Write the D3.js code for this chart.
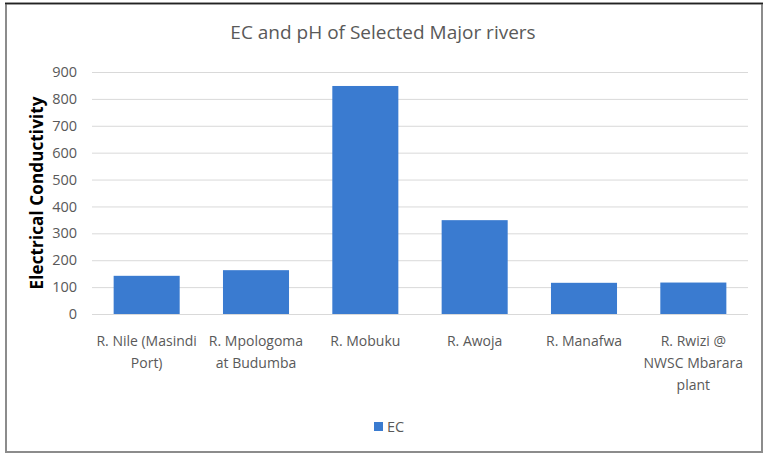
<!DOCTYPE html>
<html><head><meta charset="utf-8">
<script src="https://cdn.jsdelivr.net/npm/d3@7"></script>
<style>body{margin:0;background:#fff}svg{display:block}</style>
</head><body>
<svg id="c" width="769" height="459"></svg>
<script>
const categories = ["R. Nile (Masindi Port)", "R. Mpologoma at Budumba", "R. Mobuku", "R. Awoja", "R. Manafwa", "R. Rwizi @ NWSC Mbarara plant"];
const categoryLines = [["R. Nile (Masindi", "Port)"], ["R. Mpologoma", "at Budumba"], ["R. Mobuku"], ["R. Awoja"], ["R. Manafwa"], ["R. Rwizi @", "NWSC Mbarara", "plant"]];
const ecValues = [142, 163, 848, 349, 116, 117];
const yTicks = [0, 100, 200, 300, 400, 500, 600, 700, 800, 900];
const seriesName = "EC";
const titleText = "EC and pH of Selected Major rivers";
const yAxisTitle = "Electrical Conductivity";

const FONT = "'Open Sans',sans-serif";
const svg = d3.select("#c");
const W = 769, H = 459;
const m = {left: 92, right: 21, top: 72, bottom: 145};
const x = d3.scaleBand().domain(categories).range([m.left, W - m.right]).paddingInner(0.396).paddingOuter(0.198);
const y = d3.scaleLinear().domain([0, 900]).range([H - m.bottom, m.top]);

// frame
svg.append("rect").attr("x", 6).attr("y", 3.5).attr("width", 756).attr("height", 448.5)
  .attr("fill", "#fff").attr("stroke", "#8c8c8c").attr("stroke-width", 2);
svg.append("line").attr("x1", 5).attr("x2", 763).attr("y1", 3.5).attr("y2", 3.5).attr("stroke", "#222").attr("stroke-width", 1.5);

// grid
const yAxis = d3.axisLeft(y).tickValues(yTicks).tickSize(-(W - m.left - m.right)).tickPadding(15);
const ga = svg.append("g").attr("transform", `translate(${m.left},0)`).call(yAxis);
ga.select(".domain").remove();
ga.selectAll(".tick line").attr("stroke", "#d9d9d9").attr("stroke-width", 1);
ga.selectAll(".tick text").attr("fill", "#595959").style("font-family", FONT).style("font-size", "14.5px");

// bars
svg.append("g").selectAll("rect").data(ecValues).join("rect")
  .attr("x", (d, i) => x(categories[i]))
  .attr("width", x.bandwidth())
  .attr("y", d => y(d))
  .attr("height", d => y(0) - y(d))
  .attr("fill", "#3a7bd0");

// x labels
const xl = svg.append("g");
categories.forEach((c, i) => {
  const cx = x(c) + x.bandwidth() / 2;
  const t = xl.append("text").attr("x", cx).attr("y", 346)
    .attr("text-anchor", "middle").attr("fill", "#595959")
    .style("font-family", FONT).style("font-size", "14px");
  categoryLines[i].forEach((ln, j) => t.append("tspan").attr("x", cx).attr("dy", j === 0 ? 0 : 22).text(ln));
});

// title
svg.append("text").attr("x", 383).attr("y", 39).attr("text-anchor", "middle")
  .attr("fill", "#595959").style("font-family", FONT).style("font-size", "19px").text(titleText);

// y title
svg.append("text").attr("transform", "translate(43,193) rotate(-90)").attr("text-anchor", "middle")
  .attr("fill", "#000").style("font-family", FONT).style("font-weight", "bold").style("font-size", "17px")
  .attr("textLength", 193).attr("lengthAdjust", "spacing").text(yAxisTitle);

// legend
svg.append("rect").attr("x", 374).attr("y", 422).attr("width", 9).attr("height", 9).attr("fill", "#3a7bd0");
svg.append("text").attr("x", 387).attr("y", 432).attr("fill", "#595959")
  .style("font-family", FONT).style("font-size", "14.5px").text(seriesName);
</script>
</body></html>
